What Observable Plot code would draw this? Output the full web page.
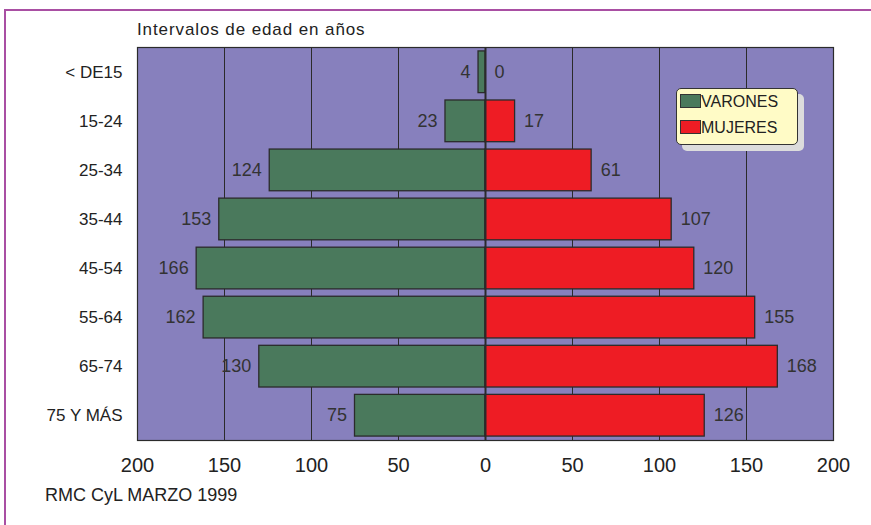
<!DOCTYPE html>
<html>
<head>
<meta charset="utf-8">
<script src="https://cdn.jsdelivr.net/npm/d3@7"></script>
<script src="https://cdn.jsdelivr.net/npm/@observablehq/plot@0.6"></script>
<style>
  html, body { margin: 0; padding: 0; background: #fff; }
  #wrap { position: relative; width: 871px; height: 525px; overflow: hidden; font-family: "Liberation Sans", Arial, sans-serif; color: #222; }
  #frame { position: absolute; left: 4px; top: 9px; width: 900px; height: 600px; border-top: 2px solid #a94fa3; border-left: 2px solid #a94fa3; }
  #title { position: absolute; left: 137px; top: 20px; font-size: 17px; letter-spacing: 0.9px; color: #222; }
  #caption { position: absolute; left: 45px; top: 485px; font-size: 18px; color: #222; }
  #legend { position: absolute; left: 676px; top: 88px; width: 120px; height: 55px; background: #fffbc6; border: 1px solid #333; border-radius: 5px; box-shadow: 6px 6px 0 #dcdcdc; font-size: 16px; }
  .item { position: absolute; left: 3px; height: 16px; line-height: 16px; }
  .sw { display: inline-block; width: 19px; height: 12px; border: 1px solid #333; vertical-align: -1px; margin-right: 0px; }
  #chart { position: absolute; left: 0; top: 0; }
</style>
</head>
<body>
<div id="wrap">
  <div id="frame"></div>
  <div id="chart"></div>
  <div id="title">Intervalos de edad en años</div>
  <div id="caption">RMC CyL MARZO 1999</div>
  <div id="legend">
    <div class="item" style="top:5px"><span class="sw" style="background:#4a795c"></span>VARONES</div>
    <div class="item" style="top:31px"><span class="sw" style="background:#ee1c24"></span>MUJERES</div>
  </div>
</div>
<script>
const ageGroups = ["< DE15", "15-24", "25-34", "35-44", "45-54", "55-64", "65-74", "75 Y MÁS"];
const varones = [4, 23, 124, 153, 166, 162, 130, 75];
const mujeres = [0, 17, 61, 107, 120, 155, 168, 126];
const xTicks = [-200, -150, -100, -50, 0, 50, 100, 150, 200];
const gridLines = [-150, -100, -50, 0, 50, 100, 150];

const rows = ageGroups.map((g, i) => ({age: g, m: varones[i], f: mujeres[i]}));

const GREEN = "#4a795c", RED = "#ee1c24", BG = "#8780bd", INK = "#2b2b2b";

const chart = Plot.plot({
  width: 871,
  height: 525,
  marginLeft: 137,
  marginRight: 38,
  marginTop: 47,
  marginBottom: 85,
  style: {fontFamily: "'Liberation Sans', Arial, sans-serif", background: "transparent", color: "#222"},
  x: {domain: [-200, 200], ticks: xTicks, tickFormat: d => Math.abs(d), label: null},
  y: {domain: ageGroups, paddingInner: 0.15, paddingOuter: 0.08, round: false, label: null},
  marks: [
    Plot.frame({fill: BG, stroke: null}),
    Plot.ruleX(gridLines, {stroke: INK, strokeWidth: 1}),
    Plot.barX(rows, {x1: 0, x2: d => -d.m, y: "age", fill: GREEN, stroke: INK, strokeWidth: 1.3}),
    Plot.barX(rows, {x1: 0, x2: d => d.f, y: "age", fill: RED, stroke: INK, strokeWidth: 1.3}),
    Plot.ruleX([0], {stroke: INK, strokeWidth: 2}),
    Plot.text(rows, {x: d => -d.m, y: "age", text: d => String(d.m), textAnchor: "end", dx: -8, fontSize: 18, fill: "#333"}),
    Plot.text(rows, {x: d => d.f, y: "age", text: d => String(d.f), textAnchor: "start", dx: 9, fontSize: 18, fill: "#333"}),
    Plot.frame({stroke: INK, strokeWidth: 1.2}),
    Plot.axisX({anchor: "bottom", ticks: xTicks, tickFormat: d => Math.abs(d), tickSize: 0, tickPadding: 17, fontSize: 20, label: null}),
    Plot.axisY({anchor: "left", tickSize: 0, tickPadding: 15, fontSize: 17, label: null})
  ]
});
document.getElementById("chart").appendChild(chart);
</script>
</body>
</html>
